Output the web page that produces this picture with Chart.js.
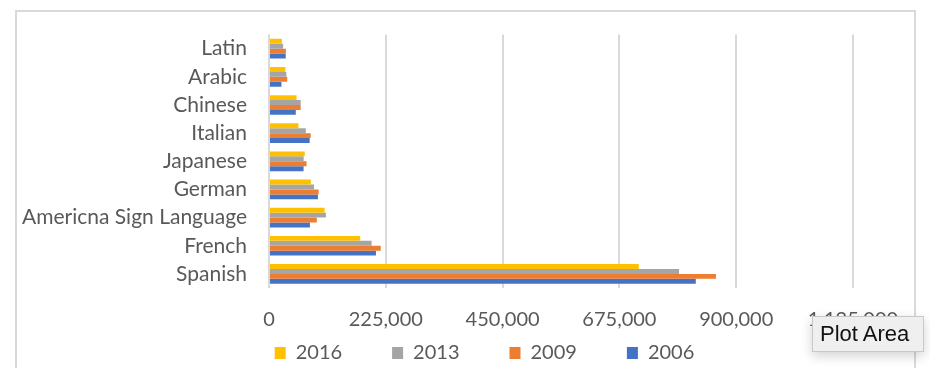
<!DOCTYPE html>
<html>
<head>
<meta charset="utf-8">
<script src="https://cdn.jsdelivr.net/npm/chart.js@4"></script>
<style>
  html, body { margin: 0; padding: 0; background: #ffffff; }
  #wrap { position: relative; width: 930px; height: 392px; overflow: hidden; }
  #frame { position: absolute; left: 15px; top: 10px; width: 901px; height: 358px; box-sizing: border-box;
           border: 2px solid #d9d9d9; border-bottom: none; pointer-events: none; }
  canvas { position: absolute; left: 0; top: 0; }
  #tip { position: absolute; left: 812px; top: 316px; width: 112px; height: 36px; box-sizing: border-box;
         background: #efefef; border: 1px solid #c8c8c8; box-shadow: 0 4px 12px rgba(0,0,0,0.18);
         font-family: "Liberation Sans", Arial, sans-serif; font-size: 22px; color: #111;
         padding-left: 7px; line-height: 34px; }
</style>
</head>
<body>
<div id="wrap">
  <div id="frame"></div>
  <canvas id="c" width="930" height="392"></canvas>
  <div id="tip">Plot Area</div>
</div>
<script>
const categories = ['Latin', 'Arabic', 'Chinese', 'Italian', 'Japanese', 'German', 'Americna Sign Language', 'French', 'Spanish'];
const seriesNames = ['2016', '2013', '2009', '2006'];
const values2016 = [24866, 31554, 53069, 56743, 68810, 80594, 107060, 175667, 712240];
const values2013 = [27192, 33526, 61084, 70982, 66771, 86782, 109567, 197679, 789888];
const values2009 = [32606, 35083, 60976, 80322, 72357, 95613, 92068, 215244, 861008];
const values2006 = [32191, 23974, 51582, 78368, 66605, 94264, 78829, 206019, 822148];
const xTickValues = [0, 225000, 450000, 675000, 900000, 1125000];
const seriesColors = ['#FFC000', '#A5A5A5', '#ED7D31', '#4472C4'];

const allValues = [values2016, values2013, values2009, values2006];
const datasets = seriesNames.map((name, i) => ({
  label: name,
  data: allValues[i],
  backgroundColor: seriesColors[i],
  borderWidth: 0,
  categoryPercentage: 0.7,
  barPercentage: 1.0
}));

const legendItemPadding = 50;

// Places the legend row just below the x tick labels and shifts it to the right like the original.
const legendPlacer = {
  id: 'legendPlacer',
  afterLayout(chart) {
    const lg = chart.legend;
    if (!lg) return;
    const itemsTop = chart.chartArea.bottom + 55;
    lg.top = itemsTop - legendItemPadding;
    lg.bottom = itemsTop + 30;
    lg.height = lg.bottom - lg.top;
    const dx = 58;
    lg.left += dx; lg.right += dx;
  }
};

new Chart(document.getElementById('c'), {
  type: 'bar',
  data: { labels: categories, datasets: datasets },
  plugins: [legendPlacer],
  options: {
    indexAxis: 'y',
    responsive: false,
    animation: false,
    layout: { padding: { left: 0, right: 77, top: 33, bottom: 20 } },
    scales: {
      x: {
        type: 'linear',
        min: xTickValues[0],
        max: xTickValues[xTickValues.length - 1],
        afterBuildTicks: (scale) => { scale.ticks = xTickValues.map(v => ({ value: v })); },
        ticks: {
          color: '#595959',
          font: { family: 'Lato', size: 20 },
          padding: 20,
          maxRotation: 0,
          autoSkip: false,
          callback: (v) => Number(v).toLocaleString('en-US')
        },
        grid: { color: '#d9d9d9', lineWidth: 2, drawTicks: false },
        border: { display: false }
      },
      y: {
        ticks: { color: '#595959', font: { family: 'Lato', size: 21 }, padding: 22, autoSkip: false },
        grid: { display: false, drawTicks: false },
        border: { display: false },
        afterFit: (scale) => { scale.width = 269; }
      }
    },
    plugins: {
      legend: {
        position: 'bottom',
        maxHeight: 20,
        labels: {
          boxWidth: 11,
          boxHeight: 12,
          padding: legendItemPadding,
          color: '#595959',
          font: { family: 'Lato', size: 20 }
        }
      },
      tooltip: { enabled: false }
    }
  }
});
</script>
</body>
</html>
